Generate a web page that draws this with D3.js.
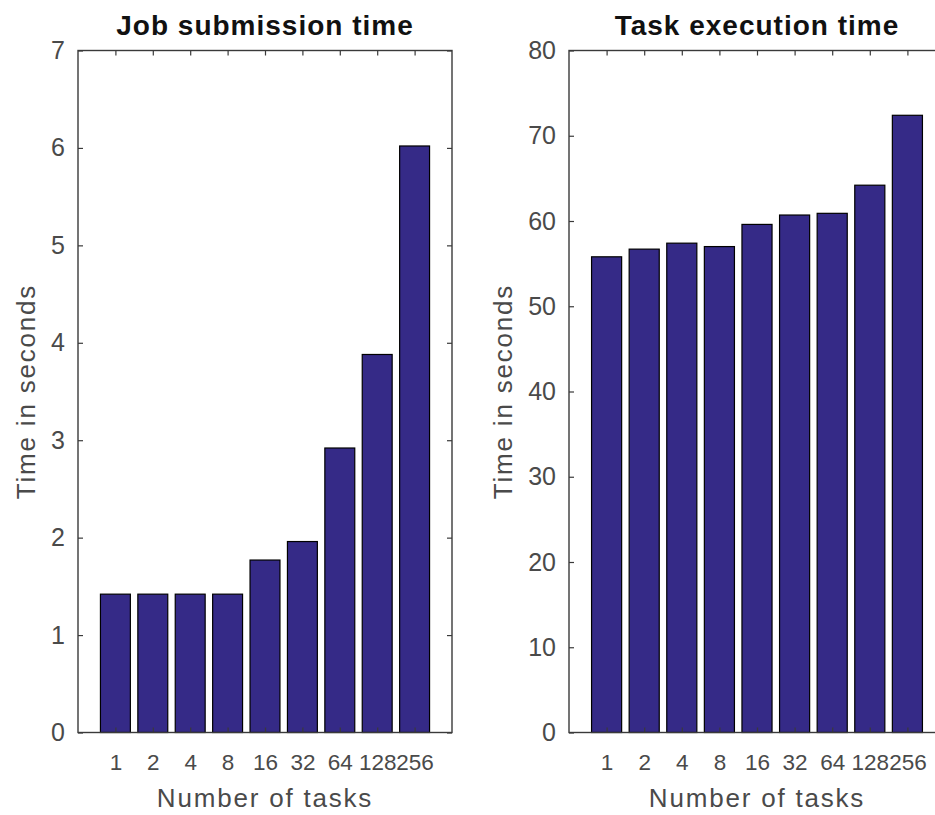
<!DOCTYPE html>
<html>
<head>
<meta charset="utf-8">
<script src="https://cdn.jsdelivr.net/npm/d3@7"></script>
<style>
  html, body { margin: 0; padding: 0; background: #fff; }
  svg { display: block; }
  text { font-family: Arial, "Liberation Sans", Helvetica, sans-serif; }
</style>
</head>
<body>
<svg id="chart" width="935" height="815"></svg>
<script>
// ---- data ----
const categories = ["1", "2", "4", "8", "16", "32", "64", "128", "256"];
const submissionTime = [1.42, 1.42, 1.42, 1.42, 1.77, 1.96, 2.92, 3.88, 6.02];
const executionTime = [55.8, 56.7, 57.4, 57.0, 59.6, 60.7, 60.9, 64.2, 72.4];
const leftTicks = [0, 1, 2, 3, 4, 5, 6, 7];
const rightTicks = [0, 10, 20, 30, 40, 50, 60, 70, 80];
const titles = ["Job submission time", "Task execution time"];
const xLabel = "Number of tasks";
const yLabel = "Time in seconds";

// ---- styles ----
const barColor = "#352a87";
const axisColor = "#3a3a3a";
const textColor = "#4a4a4a";

const svg = d3.select("#chart");
const plotTop = 50.5, plotBottom = 732.5;

const panels = [
  { x0: 78, x1: 452, values: submissionTime, ticks: leftTicks, ymax: 7, title: titles[0] },
  { x0: 569, x1: 945, values: executionTime, ticks: rightTicks, ymax: 80, title: titles[1] }
];

panels.forEach(p => {
  const g = svg.append("g");
  const x = d3.scaleLinear().domain([0, categories.length + 1]).range([p.x0, p.x1]);
  const y = d3.scaleLinear().domain([0, p.ymax]).range([plotBottom, plotTop]);
  const bw = 0.8;

  // bars
  g.selectAll("rect.bar").data(p.values).enter().append("rect")
    .attr("class", "bar")
    .attr("x", (d, i) => x(i + 1 - bw / 2))
    .attr("width", (d, i) => x(i + 1 + bw / 2) - x(i + 1 - bw / 2))
    .attr("y", d => y(d))
    .attr("height", d => y(0) - y(d))
    .attr("fill", barColor)
    .attr("stroke", "#000")
    .attr("stroke-width", 1.2);

  const xt = d3.range(1, categories.length + 1);

  const ax = g.append("g").attr("transform", `translate(0,${plotBottom})`)
    .call(d3.axisBottom(x).tickValues(xt).tickFormat(d => categories[d - 1])
      .tickSizeInner(-5).tickSizeOuter(0).tickPadding(21.5));
  const at = g.append("g").attr("transform", `translate(0,${plotTop})`)
    .call(d3.axisTop(x).tickValues(xt).tickFormat("").tickSizeInner(-5).tickSizeOuter(0));
  const ay = g.append("g").attr("transform", `translate(${p.x0},0)`)
    .call(d3.axisLeft(y).tickValues(p.ticks).tickFormat(d3.format("d"))
      .tickSizeInner(-5).tickSizeOuter(0).tickPadding(13));
  const ar = g.append("g").attr("transform", `translate(${p.x1},0)`)
    .call(d3.axisRight(y).tickValues(p.ticks).tickFormat("").tickSizeInner(-5).tickSizeOuter(0));

  [ax, at, ay, ar].forEach(a => {
    a.select(".domain").remove();
    a.selectAll(".tick line").attr("stroke", axisColor).attr("stroke-width", 1.2);
    a.selectAll(".tick text").attr("fill", textColor).attr("font-size", 25);
  });
  ax.selectAll(".tick text").attr("font-size", 22.5);

  // box
  g.append("rect")
    .attr("x", p.x0).attr("y", plotTop)
    .attr("width", p.x1 - p.x0).attr("height", plotBottom - plotTop)
    .attr("fill", "none").attr("stroke", axisColor).attr("stroke-width", 1.4);

  // title
  g.append("text")
    .attr("x", (p.x0 + p.x1) / 2).attr("y", 35)
    .attr("text-anchor", "middle")
    .attr("font-size", 28).attr("font-weight", "bold")
    .attr("letter-spacing", 1).attr("fill", "#111")
    .text(p.title);

  // x label
  g.append("text")
    .attr("x", (p.x0 + p.x1) / 2).attr("y", 807)
    .attr("text-anchor", "middle")
    .attr("font-size", 26).attr("letter-spacing", 1.8)
    .attr("fill", textColor)
    .text(xLabel);

  // y label: left of tick labels
  let minX = Infinity;
  ay.selectAll(".tick text").each(function () {
    const b = this.getBBox();
    minX = Math.min(minX, p.x0 + b.x);
  });
  const lx = minX - 16;
  g.append("text")
    .attr("transform", `translate(${lx},${(plotTop + plotBottom) / 2}) rotate(-90)`)
    .attr("text-anchor", "middle")
    .attr("font-size", 26).attr("letter-spacing", 1.8)
    .attr("fill", textColor)
    .text(yLabel);
});
</script>
</body>
</html>
